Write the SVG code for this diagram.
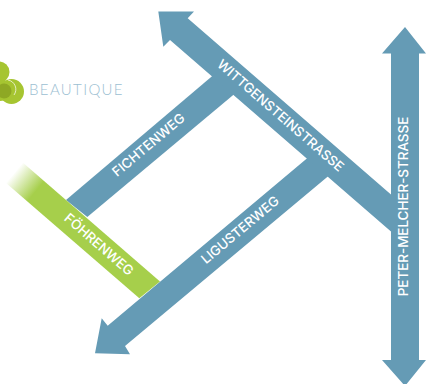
<svg xmlns="http://www.w3.org/2000/svg" width="426" height="384" viewBox="0 0 426 384">
<style>
.road{fill:#659bb5}
.lbl{font-family:"Inter","Lato",sans-serif;font-size:13.4px;font-weight:500;fill:#fff;text-anchor:middle}
</style>
<defs>
<linearGradient id="fade" gradientUnits="userSpaceOnUse" x1="14" y1="173" x2="36" y2="191">
<stop offset="0" stop-color="#a6cf4b" stop-opacity="0"/>
<stop offset="1" stop-color="#a6cf4b"/>
</linearGradient>
</defs>
<rect width="426" height="384" fill="#fff"/>
<g id="connectors">
<g id="fichtenweg-road"><polygon class="road" points="217,72 238,91 87.3,217 66,200"/></g>
<g id="foehrenweg-road"><polygon fill="url(#fade)" points="23,162.7 160,281.5 139.3,298.3 6,183"/></g>
<g id="ligusterweg-road"><polygon class="road" points="311,155 332,173 125,346 130,354.3 95,353.3 101.7,318.3 107.7,325.7"/></g>
<g id="wittgenstein-road"><polygon class="road" points="158.3,11.5 194,11.5 187.7,18.3 395,198 395,235 170,40 163.3,46.7"/></g>
<g id="peter-road"><polygon class="road" points="405,27 426,53.5 419,53.5 419,360 426,360 405,386 382,360 391,360 391,53.5 382,53.5"/></g>
</g>
<g id="fichtenweg"><text class="lbl" transform="translate(151.5,148.5) rotate(-40)">FICHTENWEG</text></g>
<g id="foehrenweg"><text class="lbl" transform="translate(96,248) rotate(41)">FÖHRENWEG</text></g>
<g id="ligusterweg"><text class="lbl" transform="translate(243,233.5) rotate(-40)">LIGUSTERWEG</text></g>
<g id="wittgensteinstrasse"><text class="lbl" transform="translate(277.5,119) rotate(41)">WITTGENSTEINSTRASSE</text></g>
<g id="peter-melcher-strasse"><text class="lbl" transform="translate(408,206.5) rotate(-90)">PETER-MELCHER-STRASSE</text></g>
<g id="logo">
<circle cx="-1" cy="72" r="10.5" fill="#a6c531"/>
<circle cx="11.5" cy="91.5" r="12.5" fill="#a6c531"/>
<circle cx="0" cy="90" r="11" fill="#a6c531"/>
<circle cx="4" cy="91" r="7.5" fill="#8ea824"/>
<path d="M8,80 A9.5,9.5 0 0 1 14,95" fill="none" stroke="#fff" stroke-width=".7"/>
<text x="29" y="95" font-family="Lato,sans-serif" font-weight="300" font-size="15" letter-spacing="1.35" fill="#9cc0d2">BEAUTIQUE</text>
</g>
</svg>
